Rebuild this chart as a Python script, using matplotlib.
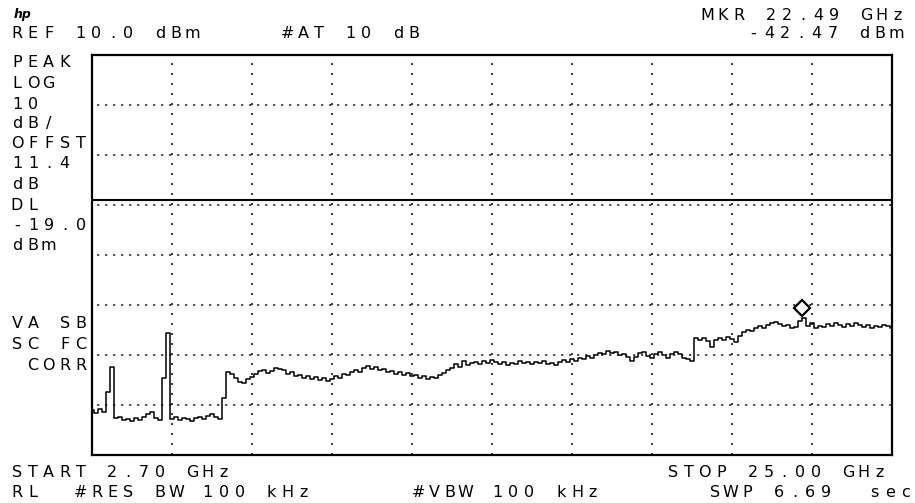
import numpy as np
import matplotlib
matplotlib.use("Agg")
import matplotlib.pyplot as plt
from matplotlib.transforms import offset_copy

# analyzer settings
start_ghz = 2.70
stop_ghz = 25.00
ref_dbm = 10.0
db_per_div = 10
n_vdiv = 8
n_hdiv = 10
display_line_dbm = -19.0
marker_ghz = 22.49
marker_dbm = -42.47

# trace, one value per sweep bucket (201 buckets)
trace_dbm = [
    -61.0, -61.6, -60.8, -61.4, -57.4, -52.4, -62.6, -62.4, -63.0, -62.8,
    -63.2, -62.6, -62.9, -62.4, -61.8, -61.4, -62.6, -63.0, -54.6, -45.6,
    -62.8, -62.4, -63.0, -62.6, -62.8, -63.2, -62.6, -62.4, -62.8, -62.2,
    -61.8, -62.4, -62.8, -58.6, -53.4, -53.8, -54.6, -55.4, -55.6, -54.8,
    -54.4, -53.8, -53.2, -53.0, -53.6, -53.2, -52.6, -52.8, -53.0, -53.8,
    -53.4, -54.2, -54.0, -54.6, -54.2, -54.8, -54.4, -55.0, -54.6, -55.2,
    -54.8, -54.2, -54.6, -53.8, -54.0, -53.4, -53.0, -53.4, -52.6, -52.2,
    -52.8, -52.4, -53.0, -52.8, -53.4, -53.2, -53.8, -53.4, -54.0, -53.6,
    -54.2, -54.0, -54.6, -54.2, -54.8, -54.4, -54.6, -54.0, -53.6, -53.0,
    -52.6, -51.8, -52.4, -51.2, -52.0, -51.6, -51.4, -51.8, -51.2, -51.6,
    -51.0, -51.4, -51.8, -51.4, -52.0, -51.6, -51.8, -51.2, -51.6, -51.4,
    -51.8, -51.4, -51.6, -51.2, -51.8, -51.6, -52.0, -51.4, -51.0, -51.4,
    -50.8, -51.2, -50.6, -50.8, -50.2, -50.6, -50.0, -49.6, -49.8, -49.2,
    -49.6, -49.4, -50.0, -49.8, -50.4, -51.2, -50.4, -49.6, -49.4, -50.2,
    -50.6, -49.8, -49.4, -50.0, -50.6, -49.8, -49.4, -49.8, -50.6, -50.8,
    -51.2, -46.6, -47.0, -46.6, -47.2, -48.4, -47.0, -46.6, -47.0, -46.4,
    -46.8, -47.4, -46.2, -45.4, -45.0, -45.2, -44.6, -44.2, -44.6, -44.0,
    -43.6, -43.4, -43.8, -44.2, -44.0, -44.6, -44.4, -43.2, -42.5, -44.2,
    -43.6, -44.6, -44.2, -44.4, -43.8, -44.2, -43.6, -44.0, -44.4, -43.8,
    -44.2, -43.6, -44.0, -44.4, -44.0, -44.6, -44.2, -44.4, -44.0, -44.2,
    -44.6,
]
sweep_ghz = np.linspace(start_ghz, stop_ghz, len(trace_dbm))

W, H = 915, 503
PITCH = 15.9  # character cell width of the screen font, px

plt.rcParams['lines.scale_dashes'] = False
plt.rcParams['font.family'] = ['DejaVu Sans']

fig = plt.figure(figsize=(W / 100, H / 100), dpi=100)
fig.patch.set_facecolor('white')
ax = fig.add_axes([92 / W, (H - 455) / H, 800 / W, 400 / H])

bottom_dbm = ref_dbm - n_vdiv * db_per_div
ax.set_xlim(start_ghz, stop_ghz)
ax.set_ylim(bottom_dbm, ref_dbm)
ax.set_xticks([])
ax.set_yticks([])
for s in ax.spines.values():
    s.set_linewidth(1.6)
    s.set_color('black')

# dotted graticule
span = (stop_ghz - start_ghz) / n_hdiv
for k in range(1, n_hdiv):
    ax.axvline(start_ghz + k * span, color='#333333', lw=1.4,
               linestyle=(0, (1.4, 5.8)))
for k in range(1, n_vdiv):
    ax.axhline(ref_dbm - k * db_per_div, color='#333333', lw=1.4,
               linestyle=(2, (1.4, 4.36)))

# display line
ax.axhline(display_line_dbm, color='black', lw=1.5)

# trace
ax.plot(sweep_ghz, trace_dbm, color='black', lw=1.1, drawstyle='steps-mid')

# marker diamond sits just above the trace point
mk_tr = offset_copy(ax.transData, fig=fig, x=0, y=6.5, units='points')
ax.plot([marker_ghz], [marker_dbm], marker='D', ms=8.5, mfc='white',
        mec='black', mew=1.6, transform=mk_tr, clip_on=False)


def screen_text(s, x0, y_base, size=11.5):
    # fixed-pitch screen font: one cell per character
    for i, ch in enumerate(s):
        if ch == ' ':
            continue
        fig.text((x0 + i * PITCH + 5) / W, 1 - y_base / H, ch,
                 ha='center', va='baseline', fontsize=size, color='black')


# header
fig.text(14 / W, 1 - 18 / H, 'hp', fontsize=9, style='italic',
         fontweight='bold', color='black', va='baseline')
screen_text('MKR 22.49 GHz', 702, 20)
screen_text('REF 10.0 dBm', 12, 38)
screen_text('#AT 10 dB', 282, 38)
screen_text('-42.47 dBm', 748, 38)

# left annotation column
left_rows = [
    ('PEAK', 67), ('LOG', 88), ('10', 109), ('dB/', 128),
    ('OFFST', 148), ('11.4', 168), ('dB', 189), ('DL', 210),
    ('-19.0', 230), ('dBm', 250),
    ('VA SB', 328), ('SC FC', 349), (' CORR', 370),
]
for txt, yb in left_rows:
    screen_text(txt, 12, yb)

# footer
screen_text('START 2.70 GHz', 12, 477)
screen_text('STOP 25.00 GHz', 668, 477)
screen_text('RL  #RES BW 100 kHz', 12, 497)
screen_text('#VBW 100 kHz', 413, 497)
screen_text('SWP 6.69  sec', 710, 497)

fig.savefig('out.png', dpi=100, facecolor='white')
